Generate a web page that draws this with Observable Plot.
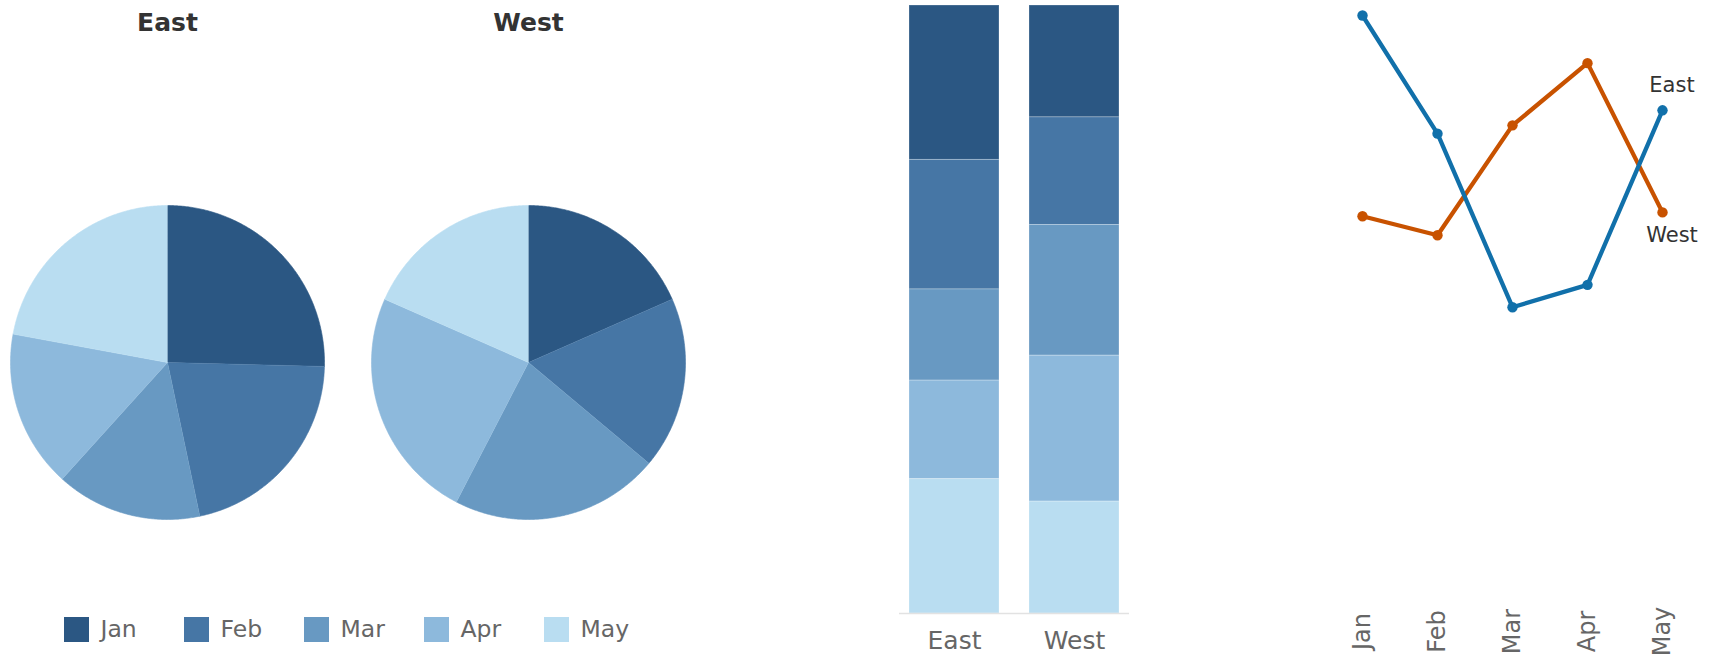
<!DOCTYPE html>
<html>
<head>
<meta charset="utf-8">
<script src="https://cdn.jsdelivr.net/npm/d3@7"></script>
<script src="https://cdn.jsdelivr.net/npm/@observablehq/plot@0.6"></script>
<style>
  body { margin: 0; background: #fff; }
  #root { position: relative; width: 1715px; height: 658px; overflow: hidden; background: #fff; }
  #root > svg { position: absolute; }
</style>
</head>
<body>
<div id="root"></div>
<script>
// ---- data ----
const months = ["Jan", "Feb", "Mar", "Apr", "May"];
const regions = ["East", "West"];
const shareEast = [25.4, 21.3, 15.0, 16.2, 22.1];
const shareWest = [18.4, 17.7, 21.5, 24.0, 18.4];
// monthly values plotted in the line chart (index units)
const lineEast = [100, 75.7, 40, 44.6, 80.5];
const lineWest = [58.7, 54.8, 77.4, 90.2, 59.5];
const monthColors = ["#2b5783", "#4676a5", "#6899c2", "#8db9dc", "#b9ddf1"];
const regionColors = ["#1170aa", "#c85200"];

const FONT = "DejaVu Sans, sans-serif";
const root = document.getElementById("root");
function place(el, left, top) {
  el.style.left = left + "px";
  el.style.top = top + "px";
  root.appendChild(el);
}
const colorScale = {type: "ordinal", domain: months, range: monthColors};

// ---- pies ----
function sliceRows(region, shares) {
  const arcs = d3.pie().sort(null)(shares);
  const rows = [];
  arcs.forEach((a, i) => {
    const n = Math.max(2, Math.ceil((a.endAngle - a.startAngle) / (Math.PI / 360)));
    rows.push({region, month: months[i], px: 0, py: 0});
    for (let k = 0; k <= n; k++) {
      const t = a.startAngle + (a.endAngle - a.startAngle) * k / n;
      rows.push({region, month: months[i], px: Math.sin(t), py: Math.cos(t)});
    }
  });
  return rows;
}
const PIE_W = 361, PIE_H = 560, R = 157, CX = 167, CY = 362;
function piePlot(region, shares) {
  return Plot.plot({
    width: PIE_W, height: PIE_H, margin: 0,
    style: {fontFamily: FONT, background: "transparent"},
    x: {domain: [-CX / R, (PIE_W - CX) / R], axis: null},
    y: {domain: [-(PIE_H - CY) / R, CY / R], axis: null},
    color: colorScale,
    marks: [
      Plot.line(sliceRows(region, shares), {x: "px", y: "py", fill: "month", stroke: "month", strokeWidth: 0.6, curve: "linear"}),
      Plot.text([region], {x: () => 0, frameAnchor: "top", dy: 22, lineAnchor: "middle", text: d => d,
        fontSize: 25, fontWeight: "bold", fill: "#333", fontFamily: FONT})
    ]
  });
}
place(piePlot("East", shareEast), 0, 0);
place(piePlot("West", shareWest), PIE_W, 0);

// ---- legend ----
place(Plot.plot({
  width: 722, height: 58, marginLeft: 75, marginRight: 166, marginTop: 0, marginBottom: 0,
  style: {fontFamily: FONT, background: "transparent"},
  x: {type: "point", domain: months, padding: 0, axis: null},
  color: colorScale,
  marks: [
    Plot.dot(months, {x: d => d, fill: d => d, symbol: "square", r: 14.1}),
    Plot.text(months, {x: d => d, text: d => d, dx: 24, textAnchor: "start", fill: "#666", fontSize: 23.5, fontFamily: FONT})
  ]
}), 0, 600);

// ---- 100% stacked bars ----
const barRows = [];
regions.forEach((r, ri) => {
  const s = ri === 0 ? shareEast : shareWest;
  months.forEach((m, i) => barRows.push({region: r, month: m, share: s[i]}));
});
place(Plot.plot({
  width: 270, height: 658, marginLeft: 19, marginRight: 21, marginTop: 5, marginBottom: 45,
  style: {fontFamily: FONT, background: "transparent"},
  x: {domain: regions, paddingInner: 0.25, paddingOuter: 1 / 12, axis: null},
  y: {domain: [0, 1], axis: null},
  color: colorScale,
  marks: [
    Plot.barY(barRows, Plot.stackY({x: "region", y: "share", fill: "month", offset: "normalize", reverse: true,
      stroke: "white", strokeOpacity: 0.25, strokeWidth: 1})),
    Plot.ruleY([0], {stroke: "#e2e2e2", strokeWidth: 1.5}),
    Plot.text(regions, {x: d => d, text: d => d, frameAnchor: "bottom", dy: 27, lineAnchor: "middle",
      fill: "#666", fontSize: 25, fontFamily: FONT})
  ]
}), 880, 0);

// ---- line chart ----
const lineRows = [];
[["West", lineWest], ["East", lineEast]].forEach(([r, vals]) => {
  months.forEach((m, i) => lineRows.push({region: r, month: m, value: vals[i]}));
});
place(Plot.plot({
  width: 415, height: 658, marginLeft: 60.7, marginRight: 51, marginTop: 0, marginBottom: 27,
  style: {fontFamily: FONT, background: "transparent"},
  x: {type: "point", domain: months, padding: 0, axis: null},
  y: {domain: [40, 100], range: [306.7, 15], axis: null},
  color: {domain: regions, range: regionColors},
  marks: [
    Plot.line(lineRows, {x: "month", y: "value", stroke: "region", z: "region", strokeWidth: 4.3}),
    Plot.dot(lineRows, {x: "month", y: "value", fill: "region", r: 5.2}),
    Plot.text(lineRows, {filter: d => d.month === "May" && d.region === "East", x: "month", y: "value", text: "region",
      dx: 9.5, dy: -25, fill: "#333", fontSize: 21, fontFamily: FONT}),
    Plot.text(lineRows, {filter: d => d.month === "May" && d.region === "West", x: "month", y: "value", text: "region",
      dx: 9.5, dy: 23, fill: "#333", fontSize: 21, fontFamily: FONT}),
    Plot.text(months, {x: d => d, text: d => d, frameAnchor: "bottom", rotate: -90, textAnchor: "middle",
      lineAnchor: "middle", fill: "#666", fontSize: 24, fontFamily: FONT})
  ]
}), 1300, 0);
</script>
</body>
</html>
